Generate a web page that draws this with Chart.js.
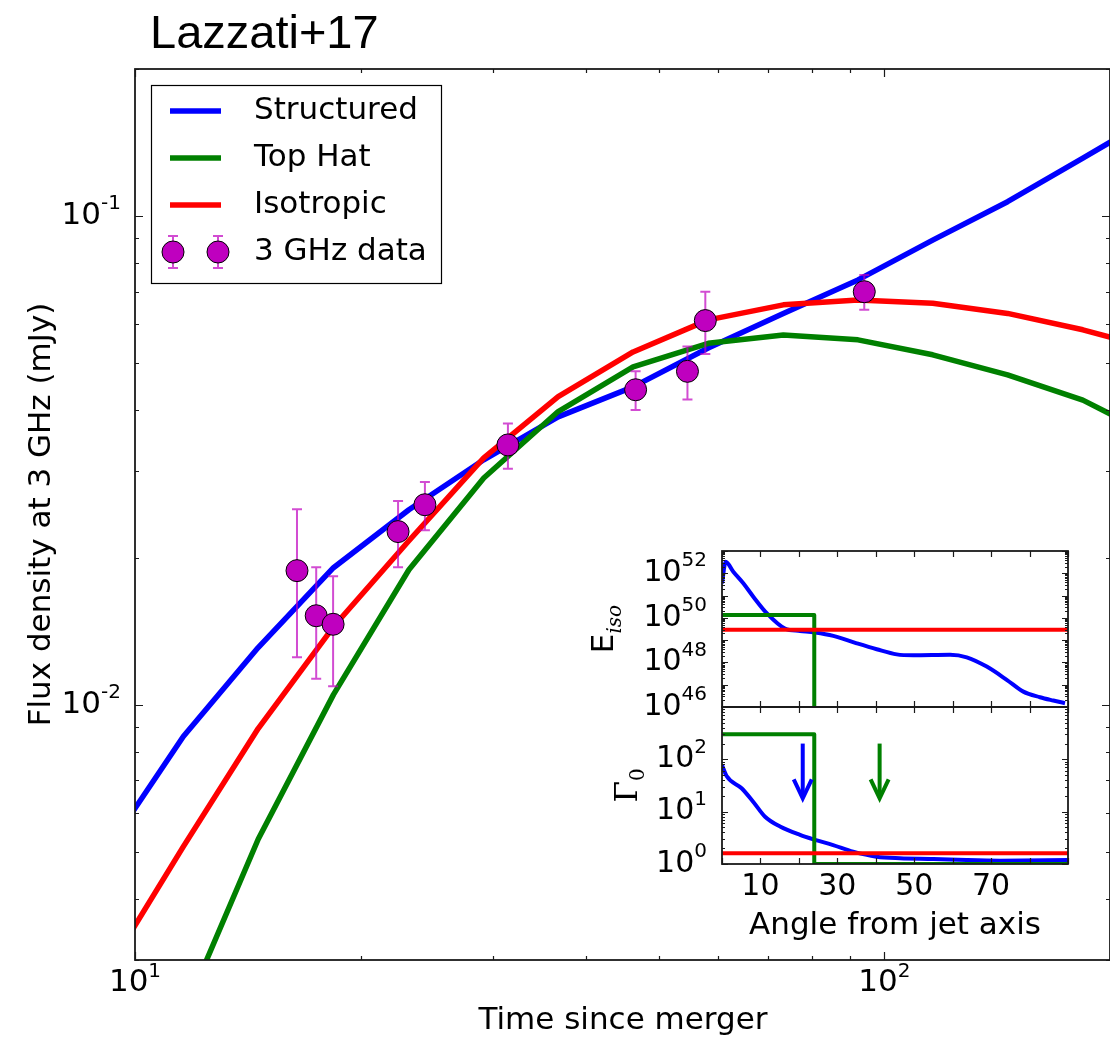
<!DOCTYPE html>
<html>
<head>
<meta charset="utf-8">
<title>Lazzati+17</title>
<script src="https://cdn.jsdelivr.net/npm/chart.js@4.4.1/dist/chart.umd.min.js"></script>
<style>
  html, body { margin: 0; padding: 0; background: #fff; }
  #wrap { position: relative; width: 1110px; height: 1037px; overflow: hidden; }
  #wrap canvas { position: absolute; }
  #mainChart { left: 0; top: 0; }
  #energyChart { left: 580px; top: 540px; }
  #lorentzChart { left: 580px; top: 700px; }
</style>
</head>
<body>
<div id="wrap">
  <canvas id="mainChart" width="1110" height="1037"></canvas>
  <canvas id="energyChart" width="500" height="190"></canvas>
  <canvas id="lorentzChart" width="500" height="245"></canvas>
</div>
<script>
// Model light curves at 3 GHz (time in days, flux in mJy)
const modelTimes = [9.21, 11.6, 14.6, 18.4, 23.2, 29.2, 36.7, 46.2, 58.2, 73.3, 92.2, 116, 146, 184, 232];
const structuredFlux = [0.00508, 0.00860, 0.01308, 0.01906, 0.02505, 0.0317, 0.0388, 0.0447, 0.0537, 0.0632, 0.0740, 0.0893, 0.1070, 0.1314, 0.1617];
const topHatFlux = [0.00097, 0.00232, 0.0053, 0.01048, 0.01888, 0.0291, 0.0398, 0.0491, 0.0549, 0.0571, 0.0558, 0.0520, 0.0473, 0.0420, 0.0351];
const isotropicFlux = [0.00287, 0.00512, 0.00893, 0.01443, 0.02164, 0.0320, 0.0427, 0.0527, 0.0613, 0.0658, 0.0673, 0.0663, 0.0632, 0.0585, 0.0532];

// VLA 3 GHz detections with 1-sigma errors
const dataTimes = [16.45, 17.45, 18.38, 22.44, 24.37, 31.45, 46.56, 54.6, 57.68, 94.0];
const dataFlux = [0.0188, 0.0152, 0.0146, 0.0226, 0.02565, 0.0340, 0.0441, 0.0481, 0.0611, 0.0700];
const dataErr = [0.0063, 0.0039, 0.0037, 0.0035, 0.0029, 0.0036, 0.0040, 0.0060, 0.0089, 0.0057];

const timeTicks = [10, 100];
const fluxTicks = [0.01, 0.1];

// Inset: jet structure vs angle (degrees)
const energyAngles = [0, 0.96, 2.94, 5.54, 8.14, 11.63, 16.39, 20.29, 24.19, 28.95, 35.04, 40.24, 45.45, 49.77, 59.31, 63.66, 68.86, 74.06, 78.38, 82.72, 86.18, 89.22];
const structuredEnergy = [3.55e51, 3.31e52, 1.17e52, 3.55e51, 8.9e50, 1.62e50, 3.3e49, 2.6e49, 2.2e49, 1.55e49, 7.2e48, 3.9e48, 2.3e48, 2.1e48, 2.2e48, 1.7e48, 6.5e47, 1.66e47, 4.9e46, 2.75e46, 1.95e46, 1.48e46];
const topHatEnergyAngles = [0, 24, 24];
const topHatEnergy = [1.35e50, 1.35e50, 1e40];
const isotropicAngles = [0, 90];
const isotropicEnergy = [2.95e49, 2.95e49];

const lorentzAngles = [0, 1.2, 5.1, 8.1, 11.2, 15.1, 20.3, 24.2, 28.9, 34.1, 40.2, 46.3, 55, 63.6, 72.3, 90];
const structuredLorentz = [78, 48, 28, 15.5, 8.0, 5.2, 3.6, 2.9, 2.3, 1.72, 1.38, 1.29, 1.25, 1.19, 1.16, 1.19];
const topHatLorentzAngles = [0, 24, 24, 90];
const topHatLorentz = [300, 300, 1, 1];
const isotropicLorentz = [1.6, 1.6];

// Viewing angle markers (upper limits) drawn as arrows in the lower panel
const arrowAngles = [21, 41];
const arrowColors = ['#0000ff', '#008000'];
const arrowFrom = 200;
const arrowTo = 18;

const energyTicks = [1e46, 1e48, 1e50, 1e52];
const lorentzTicks = [1, 10, 100];
const angleTickLabels = [10, 30, 50, 70];

const BLUE = '#0000ff', GREEN = '#008000', RED = '#ff0000', MAGENTA = '#bf00bf';
const SANS = '"DejaVu Sans"';

const points = (xs, ys) => xs.map((x, i) => ({ x: x, y: ys[i] }));

function logTicks(min, max) {
  const major = [], minor = [];
  for (let e = Math.floor(Math.log10(min)); e <= Math.ceil(Math.log10(max)); e++) {
    for (let k = 1; k <= 9; k++) {
      const v = k * Math.pow(10, e);
      if (v < min * 0.999 || v > max * 1.001) continue;
      (k === 1 ? major : minor).push(v);
    }
  }
  return { major, minor };
}

function linTicks(min, max, step) {
  const major = [];
  for (let v = min; v <= max + 1e-9; v += step) major.push(v);
  return { major, minor: [] };
}

// spines plus inward ticks on all four sides
function drawFrame(chart, xt, yt, majLen, minLen) {
  const { ctx, chartArea: a, scales } = chart;
  ctx.save();
  ctx.strokeStyle = '#1a1a1a';
  ctx.lineWidth = 1.2;
  const xTick = (v, len) => {
    const px = Math.round(scales.x.getPixelForValue(v)) + 0.5;
    ctx.beginPath();
    ctx.moveTo(px, a.bottom); ctx.lineTo(px, a.bottom - len);
    ctx.moveTo(px, a.top); ctx.lineTo(px, a.top + len);
    ctx.stroke();
  };
  const yTick = (v, len) => {
    const py = Math.round(scales.y.getPixelForValue(v)) + 0.5;
    ctx.beginPath();
    ctx.moveTo(a.left, py); ctx.lineTo(a.left + len, py);
    ctx.moveTo(a.right, py); ctx.lineTo(a.right - len, py);
    ctx.stroke();
  };
  xt.major.forEach(v => xTick(v, majLen));
  xt.minor.forEach(v => xTick(v, minLen));
  yt.major.forEach(v => yTick(v, majLen));
  yt.minor.forEach(v => yTick(v, minLen));
  ctx.lineWidth = 1.8;
  ctx.strokeRect(a.left, a.top, a.right - a.left, a.bottom - a.top);
  ctx.restore();
}

// "10" with a raised exponent
function drawPow10(ctx, exp, x, y, align, size, supSize, lift) {
  ctx.textBaseline = 'middle';
  ctx.textAlign = 'left';
  ctx.fillStyle = '#000';
  ctx.font = size + 'px ' + SANS;
  const wBase = ctx.measureText('10').width;
  ctx.font = supSize + 'px ' + SANS;
  const wExp = ctx.measureText(exp).width;
  const x0 = align === 'right' ? x - wBase - wExp : x - (wBase + wExp) / 2;
  ctx.font = size + 'px ' + SANS;
  ctx.fillText('10', x0, y);
  ctx.font = supSize + 'px ' + SANS;
  ctx.fillText(exp, x0 + wBase, y - lift);
}

const expText = v => {
  const e = Math.round(Math.log10(v));
  return e < 0 ? '-' + (-e) : String(e);
};

function drawErrorBar(ctx, x, yHi, yLo, cap) {
  ctx.beginPath();
  ctx.moveTo(x, yHi); ctx.lineTo(x, yLo);
  ctx.moveTo(x - cap, yHi); ctx.lineTo(x + cap, yHi);
  ctx.moveTo(x - cap, yLo); ctx.lineTo(x + cap, yLo);
  ctx.stroke();
}

const mainDecor = {
  id: 'mainDecor',
  beforeDatasetDraw(chart, args) {
    if (args.index !== 3) return;
    const { ctx, scales } = chart;
    ctx.save();
    ctx.strokeStyle = 'rgba(191, 0, 191, 0.7)';
    ctx.lineWidth = 2;
    dataTimes.forEach((t, i) => {
      const px = scales.x.getPixelForValue(t);
      drawErrorBar(ctx, px,
        scales.y.getPixelForValue(dataFlux[i] + dataErr[i]),
        scales.y.getPixelForValue(dataFlux[i] - dataErr[i]), 5);
    });
    ctx.restore();
  },
  afterDraw(chart) {
    const { ctx, chartArea: a, scales } = chart;
    drawFrame(chart, logTicks(10, 200), logTicks(0.003, 0.2), 8, 4);
    ctx.save();

    // title
    ctx.fillStyle = '#000';
    ctx.font = '47px "Liberation Sans"';
    ctx.textAlign = 'left';
    ctx.textBaseline = 'alphabetic';
    ctx.fillText('Lazzati+17', 150, 48);

    // tick labels
    timeTicks.forEach(v => drawPow10(ctx, expText(v), scales.x.getPixelForValue(v), a.bottom + 23, 'center', 31, 20, 11));
    fluxTicks.forEach(v => drawPow10(ctx, expText(v), a.left - 14, scales.y.getPixelForValue(v), 'right', 31, 20, 12));

    // axis titles
    ctx.font = '31px ' + SANS;
    ctx.textAlign = 'center';
    ctx.textBaseline = 'alphabetic';
    ctx.fillText('Time since merger', 623, 1029);
    ctx.save();
    ctx.translate(50, (a.top + a.bottom) / 2);
    ctx.rotate(-Math.PI / 2);
    ctx.fillText('Flux density at 3 GHz (mJy)', 0, 0);
    ctx.restore();

    // legend
    const lx = 151, ly = 85, lw = 290, lh = 198;
    ctx.fillStyle = '#fff';
    ctx.fillRect(lx, ly, lw, lh);
    ctx.strokeStyle = '#000';
    ctx.lineWidth = 1.2;
    ctx.strokeRect(lx + 0.5, ly + 0.5, lw, lh);
    const entries = [
      { label: 'Structured', color: BLUE },
      { label: 'Top Hat', color: GREEN },
      { label: 'Isotropic', color: RED },
      { label: '3 GHz data', marker: true }
    ];
    entries.forEach((e, i) => {
      const y = ly + 26 + i * 47;
      if (e.marker) {
        [173, 218].forEach(mx => {
          ctx.strokeStyle = 'rgba(191, 0, 191, 0.7)';
          ctx.lineWidth = 2;
          drawErrorBar(ctx, mx, y - 16, y + 16, 5);
          ctx.beginPath();
          ctx.arc(mx, y, 11, 0, Math.PI * 2);
          ctx.fillStyle = MAGENTA;
          ctx.fill();
          ctx.strokeStyle = '#000';
          ctx.lineWidth = 1;
          ctx.stroke();
        });
      } else {
        ctx.strokeStyle = e.color;
        ctx.lineWidth = 5.5;
        ctx.beginPath();
        ctx.moveTo(170, y); ctx.lineTo(221, y);
        ctx.stroke();
      }
      ctx.fillStyle = '#000';
      ctx.font = '31px ' + SANS;
      ctx.textAlign = 'left';
      ctx.textBaseline = 'middle';
      ctx.fillText(e.label, 254, y);
    });
    ctx.restore();
  }
};

const lineDefaults = { pointRadius: 0, tension: 0, borderJoinStyle: 'round', fill: false };

new Chart(document.getElementById('mainChart'), {
  type: 'line',
  data: {
    datasets: [
      { ...lineDefaults, label: 'Isotropic', data: points(modelTimes, isotropicFlux), borderColor: RED, borderWidth: 5.5, order: 1 },
      { ...lineDefaults, label: 'Top Hat', data: points(modelTimes, topHatFlux), borderColor: GREEN, borderWidth: 5.5, order: 2 },
      { ...lineDefaults, label: 'Structured', data: points(modelTimes, structuredFlux), borderColor: BLUE, borderWidth: 5.5, order: 3 },
      {
        type: 'scatter', label: '3 GHz data', data: points(dataTimes, dataFlux), showLine: false,
        pointRadius: 11, pointBackgroundColor: MAGENTA, pointBorderColor: '#000', pointBorderWidth: 1, order: 0
      }
    ]
  },
  options: {
    responsive: false,
    animation: false,
    devicePixelRatio: 1,
    events: [],
    layout: { autoPadding: false, padding: { left: 135, top: 69, right: 0, bottom: 77 } },
    scales: {
      x: { type: 'logarithmic', min: 10, max: 200, display: false },
      y: { type: 'logarithmic', min: 0.003, max: 0.2, display: false }
    },
    plugins: { legend: { display: false }, tooltip: { enabled: false } }
  },
  plugins: [mainDecor]
});

// upper inset panel: isotropic-equivalent energy
new Chart(document.getElementById('energyChart'), {
  type: 'line',
  data: {
    datasets: [
      { ...lineDefaults, data: points(isotropicAngles, isotropicEnergy), borderColor: RED, borderWidth: 4, order: 1 },
      { ...lineDefaults, data: points(topHatEnergyAngles, topHatEnergy), borderColor: GREEN, borderWidth: 4, order: 2 },
      { ...lineDefaults, data: points(energyAngles, structuredEnergy), borderColor: BLUE, borderWidth: 4, cubicInterpolationMode: 'monotone', order: 3 }
    ]
  },
  options: {
    responsive: false,
    animation: false,
    devicePixelRatio: 1,
    events: [],
    layout: { autoPadding: false, padding: { left: 142, top: 11, right: 12, bottom: 23 } },
    scales: {
      x: { type: 'linear', min: 0, max: 90, display: false },
      y: { type: 'logarithmic', min: 1e46, max: 1e53, display: false }
    },
    plugins: { legend: { display: false }, tooltip: { enabled: false } }
  },
  plugins: [{
    id: 'energyDecor',
    afterDraw(chart) {
      const { ctx, chartArea: a, scales } = chart;
      drawFrame(chart, linTicks(0, 90, 10), logTicks(1e46, 1e53), 6, 3);
      ctx.save();
      energyTicks.forEach(v => drawPow10(ctx, expText(v), a.left - 15, scales.y.getPixelForValue(v), 'right', 30, 20, 12));
      // E_iso axis title
      ctx.translate(33, (a.top + a.bottom) / 2);
      ctx.rotate(-Math.PI / 2);
      ctx.fillStyle = '#000';
      ctx.textBaseline = 'alphabetic';
      ctx.textAlign = 'left';
      ctx.font = '31px ' + SANS;
      const wE = ctx.measureText('E').width;
      ctx.font = 'italic 20px "DejaVu Serif"';
      const wSub = ctx.measureText('iso').width;
      const start = -(wE + wSub) / 2;
      ctx.font = '31px ' + SANS;
      ctx.fillText('E', start, 0);
      ctx.font = 'italic 20px "DejaVu Serif"';
      ctx.fillText('iso', start + wE, 8);
      ctx.restore();
    }
  }]
});

// lower inset panel: initial Lorentz factor
new Chart(document.getElementById('lorentzChart'), {
  type: 'line',
  data: {
    datasets: [
      { ...lineDefaults, data: points(isotropicAngles, isotropicLorentz), borderColor: RED, borderWidth: 4, order: 1 },
      { ...lineDefaults, data: points(topHatLorentzAngles, topHatLorentz), borderColor: GREEN, borderWidth: 4, order: 2 },
      { ...lineDefaults, data: points(lorentzAngles, structuredLorentz), borderColor: BLUE, borderWidth: 4, cubicInterpolationMode: 'monotone', order: 3 }
    ]
  },
  options: {
    responsive: false,
    animation: false,
    devicePixelRatio: 1,
    events: [],
    layout: { autoPadding: false, padding: { left: 142, top: 7, right: 12, bottom: 81 } },
    scales: {
      x: { type: 'linear', min: 0, max: 90, display: false },
      y: { type: 'logarithmic', min: 1, max: 1000, display: false }
    },
    plugins: { legend: { display: false }, tooltip: { enabled: false } }
  },
  plugins: [{
    id: 'lorentzDecor',
    afterDatasetsDraw(chart) {
      const { ctx, scales } = chart;
      ctx.save();
      ctx.lineWidth = 4;
      ctx.lineCap = 'butt';
      arrowAngles.forEach((ang, i) => {
        const x = scales.x.getPixelForValue(ang);
        const yTop = scales.y.getPixelForValue(arrowFrom);
        const yTip = scales.y.getPixelForValue(arrowTo);
        ctx.strokeStyle = arrowColors[i];
        ctx.beginPath();
        ctx.moveTo(x, yTop); ctx.lineTo(x, yTip - 2);
        ctx.stroke();
        ctx.beginPath();
        ctx.moveTo(x - 9, yTip - 19); ctx.lineTo(x, yTip); ctx.lineTo(x + 9, yTip - 19);
        ctx.stroke();
      });
      ctx.restore();
    },
    afterDraw(chart) {
      const { ctx, chartArea: a, scales } = chart;
      drawFrame(chart, linTicks(0, 90, 10), logTicks(1, 1000), 6, 3);
      ctx.save();
      lorentzTicks.forEach(v => drawPow10(ctx, expText(v), a.left - 15, scales.y.getPixelForValue(v), 'right', 30, 20, 12));
      ctx.fillStyle = '#000';
      ctx.font = '30px ' + SANS;
      ctx.textAlign = 'center';
      ctx.textBaseline = 'middle';
      angleTickLabels.forEach(v => ctx.fillText(String(v), scales.x.getPixelForValue(v), a.bottom + 23));
      ctx.font = '31px ' + SANS;
      ctx.textBaseline = 'alphabetic';
      ctx.fillText('Angle from jet axis', (a.left + a.right) / 2, 234);
      // Gamma_0 axis title
      ctx.translate(57, (a.top + a.bottom) / 2);
      ctx.rotate(-Math.PI / 2);
      ctx.textAlign = 'left';
      ctx.font = '31px "DejaVu Serif"';
      const wG = ctx.measureText('\u0393').width;
      ctx.font = '20px "DejaVu Serif"';
      const wSub = ctx.measureText('0').width;
      const start = -(wG + wSub) / 2;
      ctx.font = '31px "DejaVu Serif"';
      ctx.fillText('\u0393', start, 0);
      ctx.font = '20px "DejaVu Serif"';
      ctx.fillText('0', start + wG, 7);
      ctx.restore();
    }
  }]
});
</script>
</body>
</html>
